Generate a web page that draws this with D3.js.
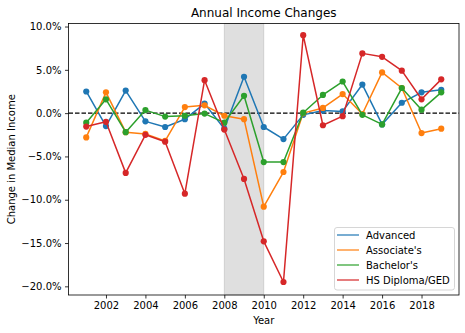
<!DOCTYPE html>
<html><head><meta charset="utf-8">
<script src="https://cdn.jsdelivr.net/npm/d3@7"></script>
<style>body{margin:0;background:#fff}svg{display:block;font-family:"DejaVu Sans",sans-serif}</style>
</head><body><svg id="c" width="465" height="333"></svg>
<script>
const years = [2001,2002,2003,2004,2005,2006,2007,2008,2009,2010,2011,2012,2013,2014,2015,2016,2017,2018,2019];
const seriesNames = ["Advanced","Associate's","Bachelor's","HS Diploma/GED"];
const advanced  = [2.5,-1.5,2.6,-0.95,-1.6,-0.7,1.1,-1.8,4.2,-1.6,-3.0,-0.2,0.3,0.2,3.3,-1.3,1.2,2.4,2.7];
const associates= [-2.8,2.4,-2.2,-2.4,-3.2,0.7,0.9,-0.3,-0.7,-10.8,-6.8,0.0,0.6,2.2,-0.1,4.7,2.9,-2.3,-1.8];
const bachelors = [-1.1,1.6,-2.2,0.35,-0.4,-0.3,-0.05,-1.1,2.0,-5.65,-5.65,0.05,2.1,3.65,-0.2,-1.3,2.9,0.4,2.4];
const hsDiploma = [-1.55,-1.0,-6.9,-2.5,-3.3,-9.3,3.8,-1.9,-7.6,-14.8,-19.5,9.0,-1.4,-0.35,6.9,6.5,4.9,1.6,3.9];
const recession = [2008,2010];
const xTicks = [2002,2004,2006,2008,2010,2012,2014,2016,2018];
const yTicks = [10,5,0,-5,-10,-15,-20];
const colors = ["#1f77b4","#ff7f0e","#2ca02c","#d62728"];
const allSeries = [advanced,associates,bachelors,hsDiploma];

const svg = d3.select("#c");
const L=68.5,R=459,T=23.5,B=295;
const x = d3.scaleLinear().domain([2000.1,2019.9]).range([L,R]);
const y = d3.scaleLinear().domain([-21.0,10.35]).range([B,T]);

// recession shading
svg.append("rect").attr("x",x(recession[0])).attr("y",T).attr("width",x(recession[1])-x(recession[0])).attr("height",B-T)
  .attr("fill","#808080").attr("fill-opacity",0.25).attr("stroke","#808080").attr("stroke-opacity",0.25).attr("stroke-width",1);

// zero line
svg.append("line").attr("x1",L).attr("x2",R).attr("y1",y(0)).attr("y2",y(0))
  .attr("stroke","#000").attr("stroke-width",1.2).attr("stroke-dasharray","4.5,2");

const line = d3.line().x((d,i)=>x(years[i])).y(d=>y(d));
allSeries.forEach((s,k)=>{
  const g = svg.append("g");
  g.append("path").attr("d",line(s)).attr("fill","none").attr("stroke",colors[k]).attr("stroke-width",1.5).attr("stroke-linejoin","round");
  g.selectAll("circle").data(s).join("circle").attr("cx",(d,i)=>x(years[i])).attr("cy",d=>y(d)).attr("r",3.1).attr("fill",colors[k]);
});

// axes
const xa = svg.append("g").attr("transform",`translate(0,${B})`).call(d3.axisBottom(x).tickValues(xTicks).tickFormat(d3.format("d")).tickSizeOuter(0).tickSize(3.5).tickPadding(3.5));
const fmt = v => (v<0?"\u2212":"")+Math.abs(v).toFixed(1)+"%";
const ya = svg.append("g").attr("transform",`translate(${L},0)`).call(d3.axisLeft(y).tickValues(yTicks).tickFormat(fmt).tickSizeOuter(0).tickSize(3.5).tickPadding(3.5));
[xa,ya].forEach(a=>{a.select(".domain").remove();a.selectAll("text").attr("font-size",10).attr("fill","#000").attr("font-family","DejaVu Sans");a.selectAll("line").attr("stroke","#000").attr("stroke-width",0.8);});
svg.append("rect").attr("x",L).attr("y",T).attr("width",R-L).attr("height",B-T).attr("fill","none").attr("stroke","#000").attr("stroke-width",0.8);

svg.append("text").attr("x",(L+R)/2).attr("y",17).attr("text-anchor","middle").attr("font-size",12).text("Annual Income Changes");
svg.append("text").attr("x",(L+R)/2).attr("y",324).attr("text-anchor","middle").attr("font-size",10).text("Year");
svg.append("text").attr("transform",`translate(15,${(T+B)/2}) rotate(-90)`).attr("text-anchor","middle").attr("font-size",10).text("Change in Median Income");

// legend
const lg = svg.append("g");
lg.append("rect").attr("x",334.5).attr("y",227.5).attr("width",120).attr("height",62.5).attr("rx",2.5)
  .attr("fill","#fff").attr("fill-opacity",0.8).attr("stroke","#ccc").attr("stroke-width",0.8);
seriesNames.forEach((n,k)=>{
  const yy = 235+k*15;
  lg.append("line").attr("x1",337).attr("x2",359).attr("y1",yy).attr("y2",yy).attr("stroke",colors[k]).attr("stroke-width",1.5).attr("stroke-opacity",0.8);
  lg.append("text").attr("x",366).attr("y",yy+3.6).attr("font-size",10).text(n);
});
</script></body></html>
